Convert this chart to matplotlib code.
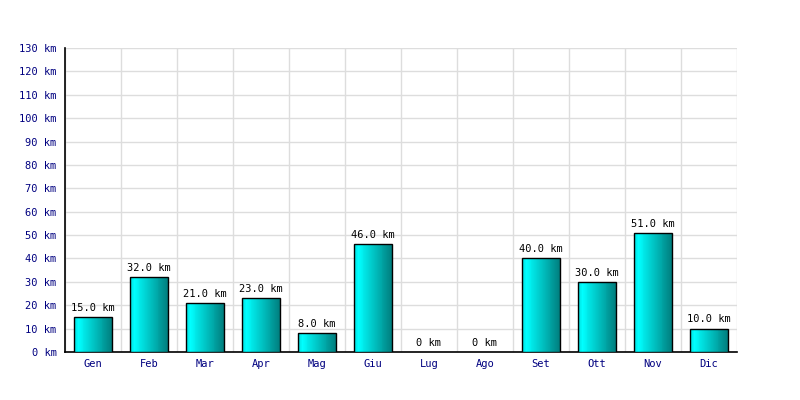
import matplotlib
matplotlib.use("Agg")
import matplotlib.pyplot as plt
import numpy as np
from matplotlib.colors import LinearSegmentedColormap

months = ["Gen", "Feb", "Mar", "Apr", "Mag", "Giu", "Lug", "Ago", "Set", "Ott", "Nov", "Dic"]
values = [15.0, 32.0, 21.0, 23.0, 8.0, 46.0, 0, 0, 40.0, 30.0, 51.0, 10.0]
yticks = list(range(0, 140, 10))

plt.rcParams['font.family'] = ['DejaVu Sans Mono']
fig = plt.figure(figsize=(8, 4), dpi=100)
ax = fig.add_axes([65/800, 1-352/400, (737-65)/800, (352-48)/400])

n = len(months)

cmap = LinearSegmentedColormap.from_list(
    "g", [(0.0, "#00e0e0"), (0.1, "#00ffff"), (1.0, "#008080")])
width = 0.68
nstrip = 40
for i, v in enumerate(values):
    x0 = i + 0.5 - width/2
    if v > 0:
        ax.bar(x0 + (np.arange(nstrip) + 0.5) * width / nstrip, v, width=width / nstrip * 1.05,
               color=cmap(np.linspace(0, 1, nstrip)), linewidth=0, zorder=3)
        ax.bar(i + 0.5, v, width=width, fill=False, edgecolor='black', linewidth=1.0, zorder=4)
        lbl = f"{v:.1f} km"
    else:
        lbl = "0 km"
    ax.annotate(lbl, (i + 0.5, v), xytext=(0, 3), textcoords='offset points',
                ha='center', va='bottom', fontsize=7.5, color='black', zorder=5)

ax.set_xlim(0, n)
ax.set_ylim(0, 130)
ax.set_yticks(yticks)
ax.set_yticklabels([f"{t} km" for t in yticks], color='#000080', fontsize=7.5)
ax.set_xticks(np.arange(n) + 0.5)
ax.set_xticklabels(months, color='#000080', fontsize=7.5)
ax.set_xticks(np.arange(n + 1), minor=True)
ax.tick_params(axis='x', which='both', length=0, pad=5)
ax.tick_params(axis='y', length=0, pad=6)
ax.grid(True, axis='y', color='#dddddd', linewidth=1, zorder=0)
ax.grid(True, axis='x', which='minor', color='#dddddd', linewidth=1, zorder=0)
ax.grid(False, axis='x', which='major')
ax.set_axisbelow(True)
for s in ['top', 'right']:
    ax.spines[s].set_visible(False)
ax.spines['left'].set_linewidth(1.2)
ax.spines['bottom'].set_linewidth(1.2)

fig.savefig("out.png", dpi=100)
